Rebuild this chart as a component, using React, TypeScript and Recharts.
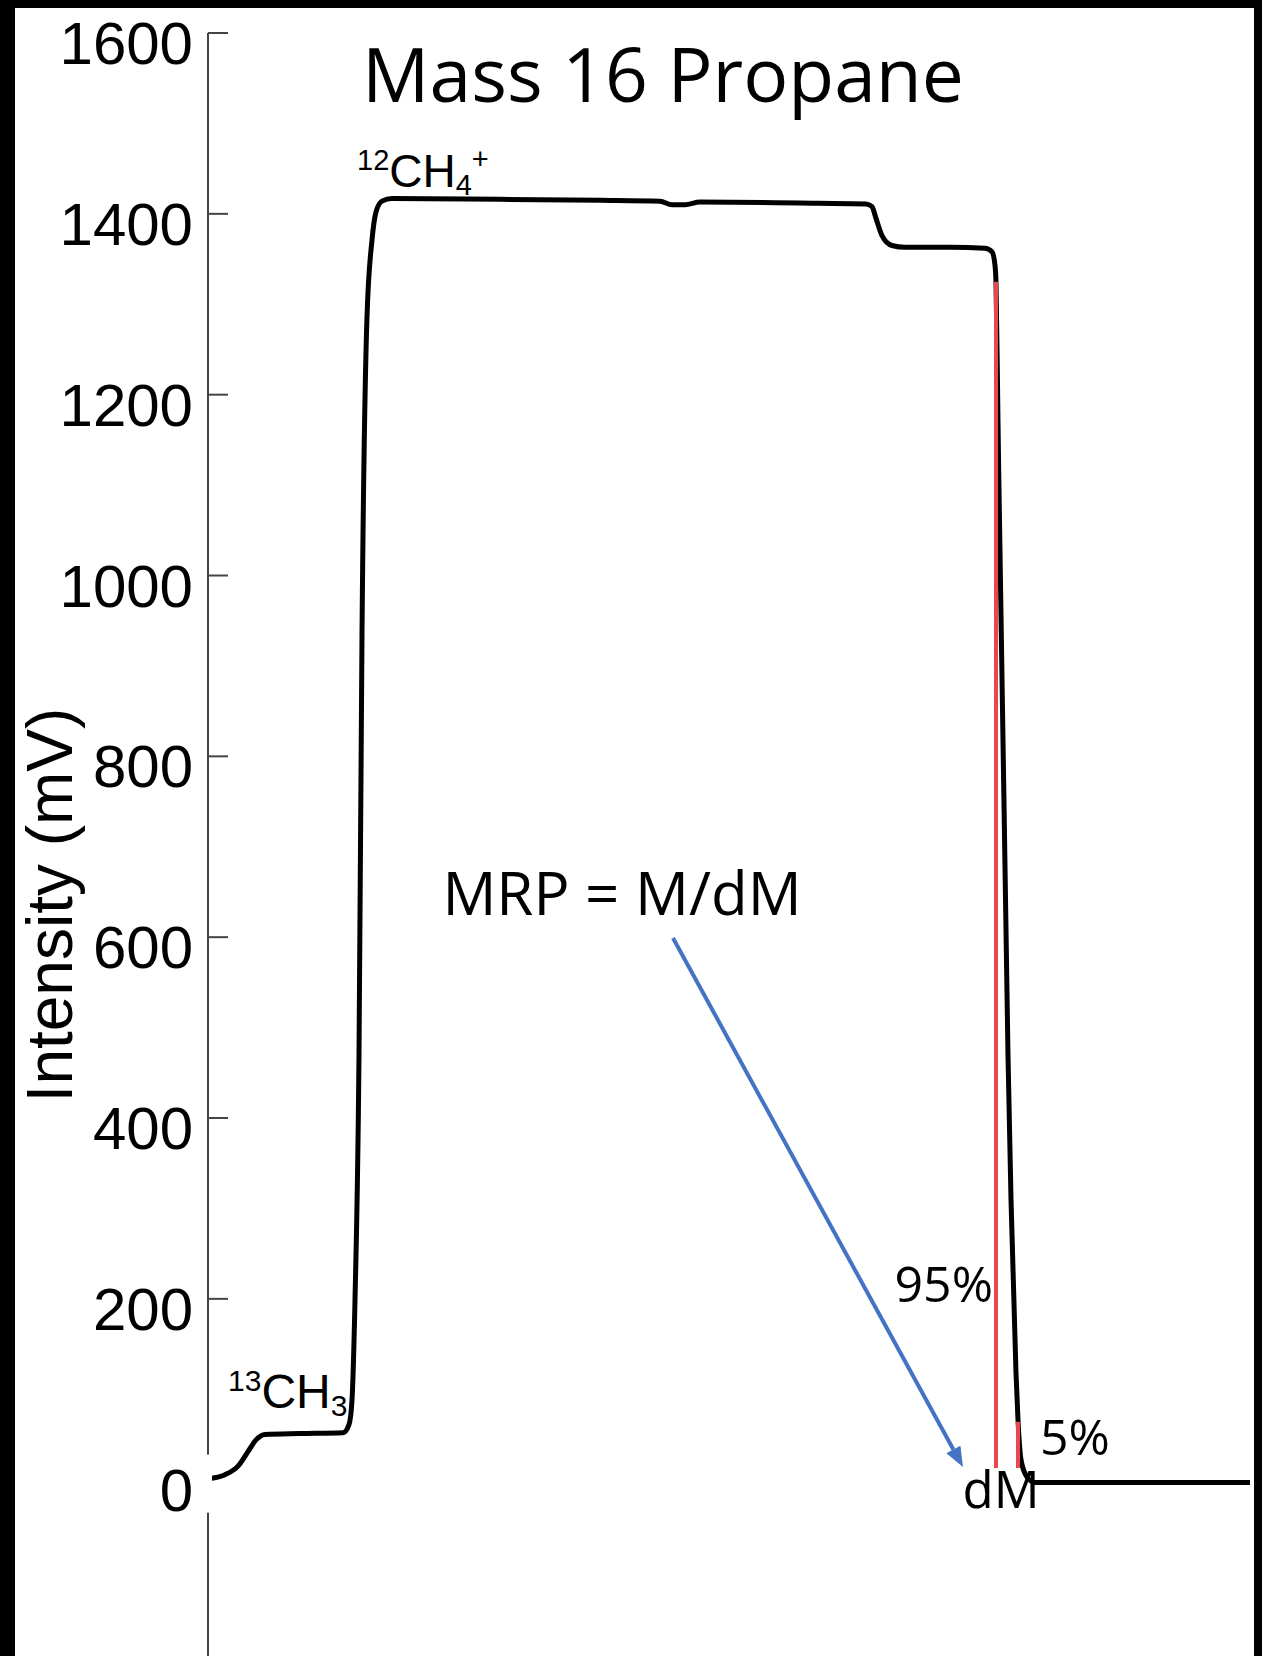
import { LineChart, Line, XAxis, YAxis, ReferenceLine } from 'recharts';

// scan position (arbitrary units along the mass scan) and detector intensity (mV)
const scanPos = [
  0, 17, 30, 40, 48, 57, 92, 135, 141, 144, 147, 151, 154, 159, 164, 168, 174, 184,
  292, 392, 452, 464, 477, 492, 592, 658, 664, 668, 674, 684, 697, 742, 777, 784,
  787, 788, 790, 800, 803, 808, 810, 813, 819, 827, 1042,
];
const intensity = [
  1, 5.5, 15, 31, 44, 50, 51, 52, 61, 88, 199, 469, 935, 1286, 1371, 1402, 1414, 1417,
  1416, 1415, 1414, 1410, 1410, 1413, 1412, 1411, 1408, 1395, 1376, 1365, 1363, 1363, 1362, 1358,
  1343, 1324, 1170, 469, 310, 118, 66, 22, 3, -3, -3,
];

// 95% / 5% markers on the falling edge
const markerPos = [788, 810];
const markerTop = [1325, 64];
const markerBase = 13;

// arrow from the MRP label down to dM
const arrowFrom = { x: 465, y: 599 };
const arrowTo = { x: 755, y: 14 };

const yTicks = [0, 200, 400, 600, 800, 1000, 1200, 1400, 1600];

const data = scanPos.map((x, i) => ({ x, mV: intensity[i] }));
const markers = markerPos.map((x, i) => [
  { x, mV: markerBase },
  { x, mV: markerTop[i] },
]);

const SANS = 'Liberation Sans, Arial, Helvetica, sans-serif';
const MYRIAD = '"Open Sans", "Noto Sans", sans-serif';

function YTick(props: any) {
  const { x, y, payload } = props;
  const v = payload.value;
  return (
    <g>
      {v === 0 ? (
        <rect x={x - 4} y={y - 25} width={8} height={58} fill="#fff" />
      ) : (
        <line x1={x} x2={x + 20} y1={y} y2={y} stroke="#444" strokeWidth={2} />
      )}
      <text x={x - 15} y={y + 31} textAnchor="end" fontSize={60} fontFamily={SANS} fill="#000">
        {v}
      </text>
    </g>
  );
}

function Arrow(props: any) {
  const { x1, y1, x2, y2 } = props;
  const ang = Math.atan2(y2 - y1, x2 - x1);
  const L = 20;
  const W = 8;
  const bx = x2 - L * Math.cos(ang);
  const by = y2 - L * Math.sin(ang);
  const px = -Math.sin(ang) * W;
  const py = Math.cos(ang) * W;
  return (
    <g>
      <line x1={x1} y1={y1} x2={bx} y2={by} stroke="#4472c4" strokeWidth={4} />
      <polygon points={`${x2},${y2} ${bx + px},${by + py} ${bx - px},${by - py}`} fill="#4472c4" />
    </g>
  );
}

export default function App() {
  return (
    <div style={{ position: 'absolute', left: 0, top: 0, width: 1262, height: 1656, background: '#000', overflow: 'hidden' }}>
      <div style={{ position: 'absolute', left: 15, top: 8, width: 1239, height: 1648, background: '#fff' }}>
        <LineChart width={1239} height={1648} margin={{ top: 25, right: 2, bottom: 0, left: 0 }}>
          <XAxis type="number" dataKey="x" domain={[0, 1044]} hide />
          <YAxis
            type="number"
            width={193}
            domain={[-195, 1600]}
            ticks={yTicks}
            interval={0}
            tickSize={0}
            tickMargin={0}
            tickLine={false}
            axisLine={{ stroke: '#444', strokeWidth: 2 }}
            tick={<YTick />}
          />
          <Line
            data={data}
            dataKey="mV"
            type="monotone"
            stroke="#000"
            strokeWidth={5}
            dot={false}
            isAnimationActive={false}
          />
          {markers.map((m, i) => (
            <Line
              key={i}
              data={m}
              dataKey="mV"
              type="linear"
              stroke="#e8474b"
              strokeWidth={4}
              dot={false}
              isAnimationActive={false}
            />
          ))}
          <ReferenceLine segment={[arrowFrom, arrowTo]} shape={<Arrow />} />
        </LineChart>
      </div>
      <svg width={1262} height={1656} style={{ position: 'absolute', left: 0, top: 0, pointerEvents: 'none' }}>
        <text x={663} y={102} textAnchor="middle" fontSize={75} fontFamily={MYRIAD} fill="#000">
          Mass 16 Propane
        </text>
        <text x={72} y={905} textAnchor="middle" fontSize={64} fontFamily={SANS} fill="#000" transform="rotate(-90, 72, 905)">
          Intensity (mV)
        </text>
        <text x={357} y={187} fontSize={46} fontFamily={SANS} fill="#000">
          <tspan fontSize={29} dy={-17}>12</tspan>
          <tspan dy={17}>CH</tspan>
          <tspan fontSize={29} dy={8}>4</tspan>
          <tspan fontSize={29} dy={-26}>+</tspan>
        </text>
        <text x={228} y={1408} fontSize={48} fontFamily={SANS} fill="#000">
          <tspan fontSize={30} dy={-17}>13</tspan>
          <tspan dy={17}>CH</tspan>
          <tspan fontSize={30} dy={8}>3</tspan>
        </text>
        <text x={622} y={915} textAnchor="middle" fontSize={60} fontFamily={MYRIAD} fill="#000">
          MRP = M/dM
        </text>
        <text x={993} y={1302} textAnchor="end" fontSize={50} fontFamily={MYRIAD} fill="#000">
          95%
        </text>
        <text x={1040} y={1455} fontSize={50} fontFamily={MYRIAD} fill="#000">
          5%
        </text>
        <text x={1001} y={1508} textAnchor="middle" fontSize={51} fontFamily={MYRIAD} fill="#000">
          dM
        </text>
      </svg>
    </div>
  );
}
